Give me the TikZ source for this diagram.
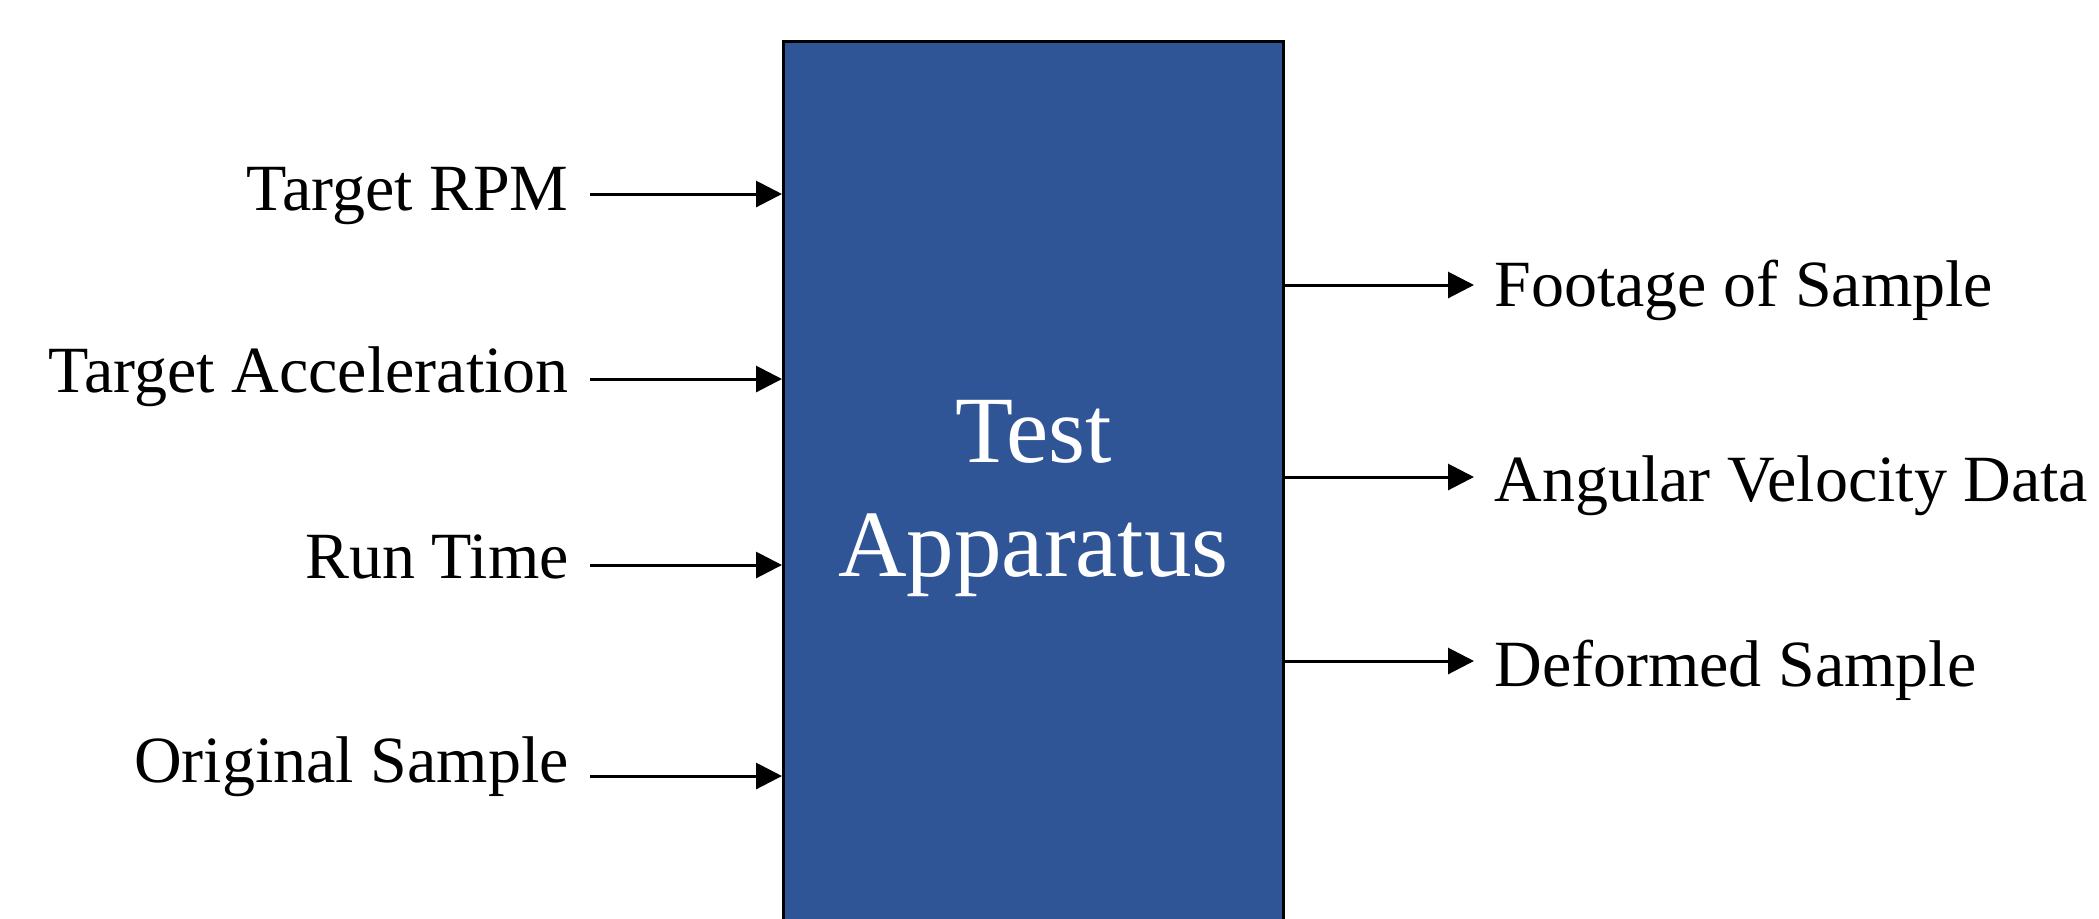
\documentclass[tikz,border=0pt]{standalone}
\usepackage{fontspec}
\setmainfont{Liberation Serif}
\usetikzlibrary{arrows.meta}
\definecolor{boxblue}{RGB}{47,85,151}
\tikzset{
  lbl/.style={inner sep=0pt, font=\fontsize{33}{40}\selectfont},
  inlbl/.style={lbl, anchor=base east},
  outlbl/.style={lbl, anchor=base west},
  flow/.style={line width=1.5pt, -{Triangle[length=13pt,width=13pt]}},
  apparatus/.style={draw=black, line width=1.5pt, fill=boxblue, text=white, inner sep=0pt,
    minimum width=250pt, minimum height=457pt, anchor=north west, align=center,
    font=\fontsize{47.5}{57}\selectfont}
}
\begin{document}
\begin{tikzpicture}[x=0.5pt,y=-0.5pt]
\useasboundingbox (0,0) rectangle (2099,918);
\node[apparatus] (box) at (782,40) {Test\\Apparatus};
% inputs
\node[inlbl] (in1) at (569,210) {Target RPM};
\node[inlbl] (in2) at (569,392) {Target Acceleration};
\node[inlbl] (in3) at (569,578) {Run Time};
\node[inlbl] (in4) at (569,782) {Original Sample};
\coordinate (s1) at (590,194);
\coordinate (s2) at (590,379);
\coordinate (s3) at (590,565);
\coordinate (s4) at (590,776);
\draw[flow] (s1) -- (s1 -| box.west);
\draw[flow] (s2) -- (s2 -| box.west);
\draw[flow] (s3) -- (s3 -| box.west);
\draw[flow] (s4) -- (s4 -| box.west);
% outputs
\coordinate (e1) at (1474,285);
\coordinate (e2) at (1474,477);
\coordinate (e3) at (1474,661);
\node[outlbl] (out1) at (1494,306) {Footage of Sample};
\node[outlbl] (out2) at (1494,501) {Angular Velocity Data};
\node[outlbl] (out3) at (1494,686) {Deformed Sample};
\draw[flow] (e1 -| box.east) -- (e1);
\draw[flow] (e2 -| box.east) -- (e2);
\draw[flow] (e3 -| box.east) -- (e3);
\end{tikzpicture}
\end{document}
